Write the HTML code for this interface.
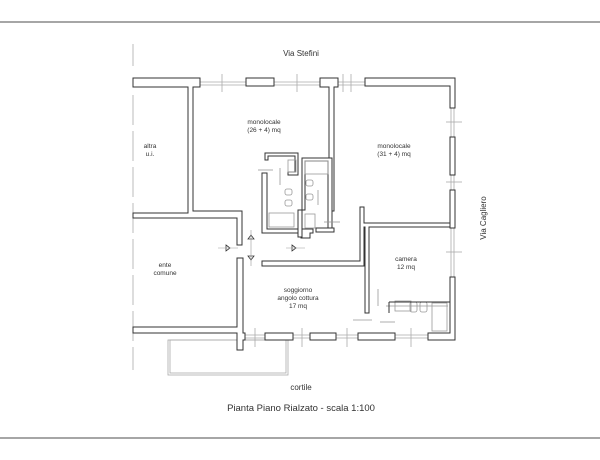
<!DOCTYPE html>
<html><head><meta charset="utf-8"><style>
html,body{margin:0;padding:0;background:#fff;width:600px;height:460px;overflow:hidden}
svg{display:block}
text{font-family:"Liberation Sans",sans-serif;fill:#333}
</style></head><body>
<svg width="600" height="460" viewBox="0 0 600 460">
<line x1="0" y1="22" x2="600" y2="22" stroke="#888" stroke-width="1.5"/>
<line x1="0" y1="438" x2="600" y2="438" stroke="#888" stroke-width="1.5"/>
<line x1="133" y1="44" x2="133" y2="66" stroke="#bbb"/>
<line x1="133" y1="95" x2="133" y2="370" stroke="#bbb" stroke-dasharray="30,6"/>
<text x="301" y="56" font-size="8" text-anchor="middle">Via Stefini</text>

<!-- windows (thin lines) -->
<g stroke="#aaa" stroke-width="0.8" fill="none">
<line x1="200" y1="82" x2="246" y2="82"/><line x1="200" y1="85" x2="246" y2="85"/>
<line x1="274" y1="82" x2="320" y2="82"/><line x1="274" y1="85" x2="320" y2="85"/>
<line x1="338" y1="82" x2="365" y2="82"/><line x1="338" y1="85" x2="365" y2="85"/>
<line x1="222" y1="74" x2="222" y2="92"/><line x1="297" y1="74" x2="297" y2="92"/><line x1="351" y1="74" x2="351" y2="92"/><line x1="343" y1="74" x2="343" y2="92"/>
<line x1="451" y1="108" x2="451" y2="137"/><line x1="454" y1="108" x2="454" y2="137"/>
<line x1="451" y1="175" x2="451" y2="190"/><line x1="454" y1="175" x2="454" y2="190"/>
<line x1="451" y1="228" x2="451" y2="277"/><line x1="454" y1="228" x2="454" y2="277"/>
<line x1="446" y1="122" x2="462" y2="122"/><line x1="446" y1="182" x2="462" y2="182"/><line x1="446" y1="252" x2="462" y2="252"/>
<line x1="245" y1="335" x2="265" y2="335"/><line x1="245" y1="338" x2="265" y2="338"/>
<line x1="293" y1="335" x2="310" y2="335"/><line x1="293" y1="338" x2="310" y2="338"/>
<line x1="336" y1="335" x2="358" y2="335"/><line x1="336" y1="338" x2="358" y2="338"/>
<line x1="395" y1="335" x2="428" y2="335"/><line x1="395" y1="338" x2="428" y2="338"/>
<line x1="255" y1="328" x2="255" y2="347"/><line x1="302" y1="328" x2="302" y2="347"/><line x1="347" y1="328" x2="347" y2="347"/><line x1="411" y1="328" x2="411" y2="347"/>
<!-- balcony -->
<rect x="168" y="340" width="120" height="35"/><rect x="170" y="340" width="116" height="33"/>
</g>

<!-- walls -->
<g stroke="#333" stroke-width="1" fill="#fff">
<!-- top -->
<path d="M133 78 H200 V87 H193 V211 H242 V245 H237 V218 H133 V213 H188 V87 H133 Z"/>
<rect x="246" y="78" width="28" height="8"/>
<path d="M320 78 H338 V87 H334 V211 H329 V87 H320 Z"/>
<path d="M365 78 H455 V108 H450 V86 H365 Z"/>
<rect x="450" y="137" width="5" height="38"/>
<rect x="450" y="190" width="5" height="38"/>
<!-- right lower + bottom -->
<path d="M450 277 H455 V340 H428 V333 H450 Z"/>
<rect x="358" y="333" width="37" height="7"/>
<rect x="310" y="333" width="26" height="7"/>
<rect x="265" y="333" width="28" height="7"/>
<path d="M133 327 H237 V258 H243 V333 H245 V340 H243 V350 H237 V333 H133 Z"/>
<!-- monolocale2 bottom / camera -->
<path d="M360 207 H364 V223 H450 V227 H369 V313 H365 V227 H364 V266 H262 V261 H360 Z"/>
<!-- bath block -->
<path d="M265 153 H298 V175 H288 V172 H295 V156 H268 V160 H265 Z"/>
<path d="M263 173 H267 V229 H313 V233 H310 V238 H301 V233 H262 V173 Z"/>
<path d="M302 158 H332 V230 H328 V161 H305 V210 H302 Z"/>
<path d="M298 210 H302 V237 H298 Z"/>
<path d="M316 228 H334 V232 H316 Z"/>
</g>
<!-- fixtures -->
<g stroke="#999" stroke-width="0.8" fill="none">
<rect x="288" y="160" width="8" height="12"/>
<rect x="305" y="161" width="23" height="13"/>
<rect x="269" y="213" width="25" height="14"/>
<rect x="305" y="214" width="10" height="14"/>
<rect x="285" y="189" width="7" height="6" rx="2"/><rect x="285" y="200" width="7" height="6" rx="2"/>
<rect x="306" y="180" width="7" height="6" rx="2"/><rect x="306" y="194" width="7" height="6" rx="2"/>
<line x1="258" y1="170" x2="273" y2="170"/><line x1="280" y1="168" x2="280" y2="185"/>
<line x1="318" y1="190" x2="318" y2="205"/><line x1="324" y1="222" x2="340" y2="222"/>
<rect x="395" y="301" width="16" height="10"/><rect x="410" y="302" width="7" height="10" rx="2"/><rect x="420" y="302" width="7" height="10" rx="2"/>
<rect x="432" y="303" width="15" height="28"/>
<line x1="378" y1="289" x2="378" y2="306"/><line x1="353" y1="320" x2="372" y2="320"/><line x1="380" y1="322" x2="395" y2="322"/>
<line x1="386" y1="306" x2="448" y2="306"/>
</g>
<path d="M389 302 H450 M389 302 V313" stroke="#333" fill="none"/>
<!-- door symbols -->
<g stroke="#333" stroke-width="0.8" fill="#fff">
<path d="M248 239 L251 235 L254 239 Z"/><path d="M248 256 L251 260 L254 256 Z"/>
<path d="M226 245 L230 248 L226 251 Z"/><path d="M292 245 L296 248 L292 251 Z"/>
</g>
<g stroke="#999" stroke-width="0.6"><line x1="251" y1="230" x2="251" y2="266"/><line x1="218" y1="248" x2="238" y2="248"/><line x1="286" y1="248" x2="305" y2="248"/></g>

<g font-size="6.5" text-anchor="middle">
<text x="264" y="124">monolocale</text><text x="264" y="132">(26 + 4) mq</text>
<text x="394" y="148">monolocale</text><text x="394" y="156">(31 + 4) mq</text>
<text x="150" y="148">altra</text><text x="150" y="156">u.i.</text>
<text x="165" y="267">ente</text><text x="165" y="275">comune</text>
<text x="406" y="261">camera</text><text x="406" y="269">12 mq</text>
<text x="298" y="292">soggiorno</text><text x="298" y="300">angolo cottura</text><text x="298" y="308">17 mq</text>
</g>
<text x="486" y="218" font-size="8" text-anchor="middle" transform="rotate(-90 486 218)">Via Cagliero</text>
<text x="301" y="390" font-size="8" text-anchor="middle">cortile</text>
<text x="301" y="411" font-size="9.5" text-anchor="middle">Pianta Piano Rialzato - scala 1:100</text>
</svg>
</body></html>
